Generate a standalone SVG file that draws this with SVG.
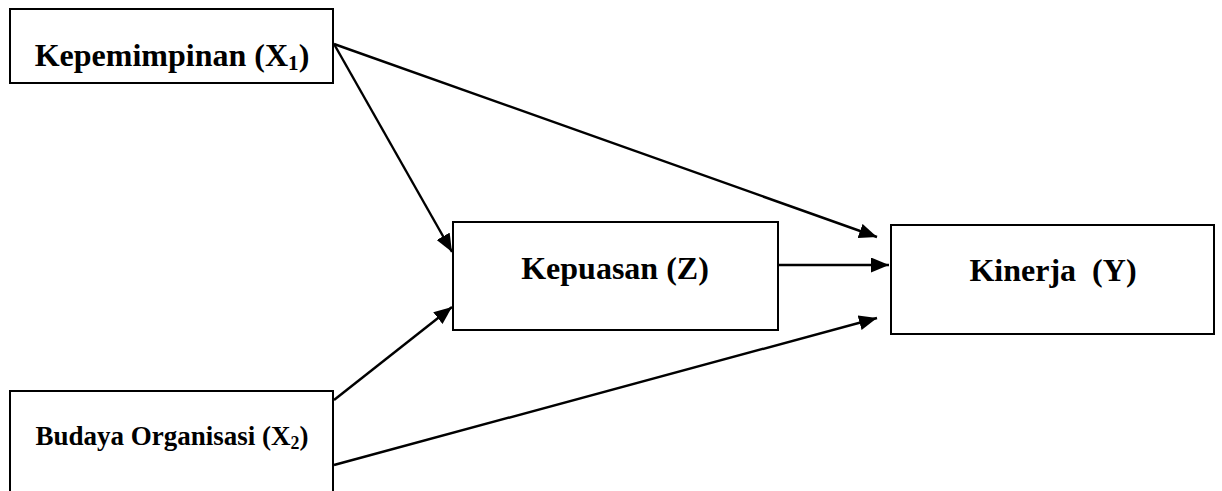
<svg xmlns="http://www.w3.org/2000/svg" width="1222" height="491" viewBox="0 0 1222 491">
  <style>
    .box { fill: #ffffff; stroke: #000000; stroke-width: 2; }
    .label { font-family: "Liberation Serif", "Times New Roman", serif; font-weight: bold; fill: #000000; text-anchor: middle; white-space: pre; }
    .big { font-size: 32px; }
    .small { font-size: 27px; }
    .sub { font-size: 0.66em; }
    .link { stroke: #000000; stroke-width: 2.4; fill: none; marker-end: url(#arrow); }
  </style>
  <defs>
    <marker id="arrow" markerUnits="userSpaceOnUse" markerWidth="19" markerHeight="15" refX="18" refY="7.5" orient="auto">
      <path d="M0,0 L18,7.5 L0,15 Z" fill="#000000"/>
    </marker>
  </defs>

  <rect width="1222" height="491" fill="#ffffff"/>

  <g id="connectors">
    <line class="link" x1="334" y1="44" x2="877" y2="237"/>
    <line class="link" x1="334" y1="44" x2="452" y2="252"/>
    <line class="link" x1="334" y1="400" x2="452" y2="307"/>
    <line class="link" x1="334" y1="465" x2="877" y2="318"/>
    <line class="link" x1="778" y1="265" x2="889" y2="265"/>
  </g>

  <g id="node-kepemimpinan">
    <rect class="box" x="10" y="9" width="323" height="74"/>
    <text class="label big" x="172" y="66">Kepemimpinan (X<tspan class="sub" dy="4">1</tspan><tspan dy="-4">)</tspan></text>
  </g>

  <g id="node-budaya">
    <rect class="box" x="10" y="391" width="323" height="110"/>
    <text class="label small" x="172" y="445">Budaya Organisasi (X<tspan class="sub" dy="4">2</tspan><tspan dy="-4">)</tspan></text>
  </g>

  <g id="node-kepuasan">
    <rect class="box" x="453" y="222" width="325" height="108"/>
    <text class="label big" x="615" y="279">Kepuasan (Z)</text>
  </g>

  <g id="node-kinerja">
    <rect class="box" x="891" y="225" width="323" height="109"/>
    <text class="label big" x="1053" y="281">Kinerja  (Y)</text>
  </g>
</svg>
